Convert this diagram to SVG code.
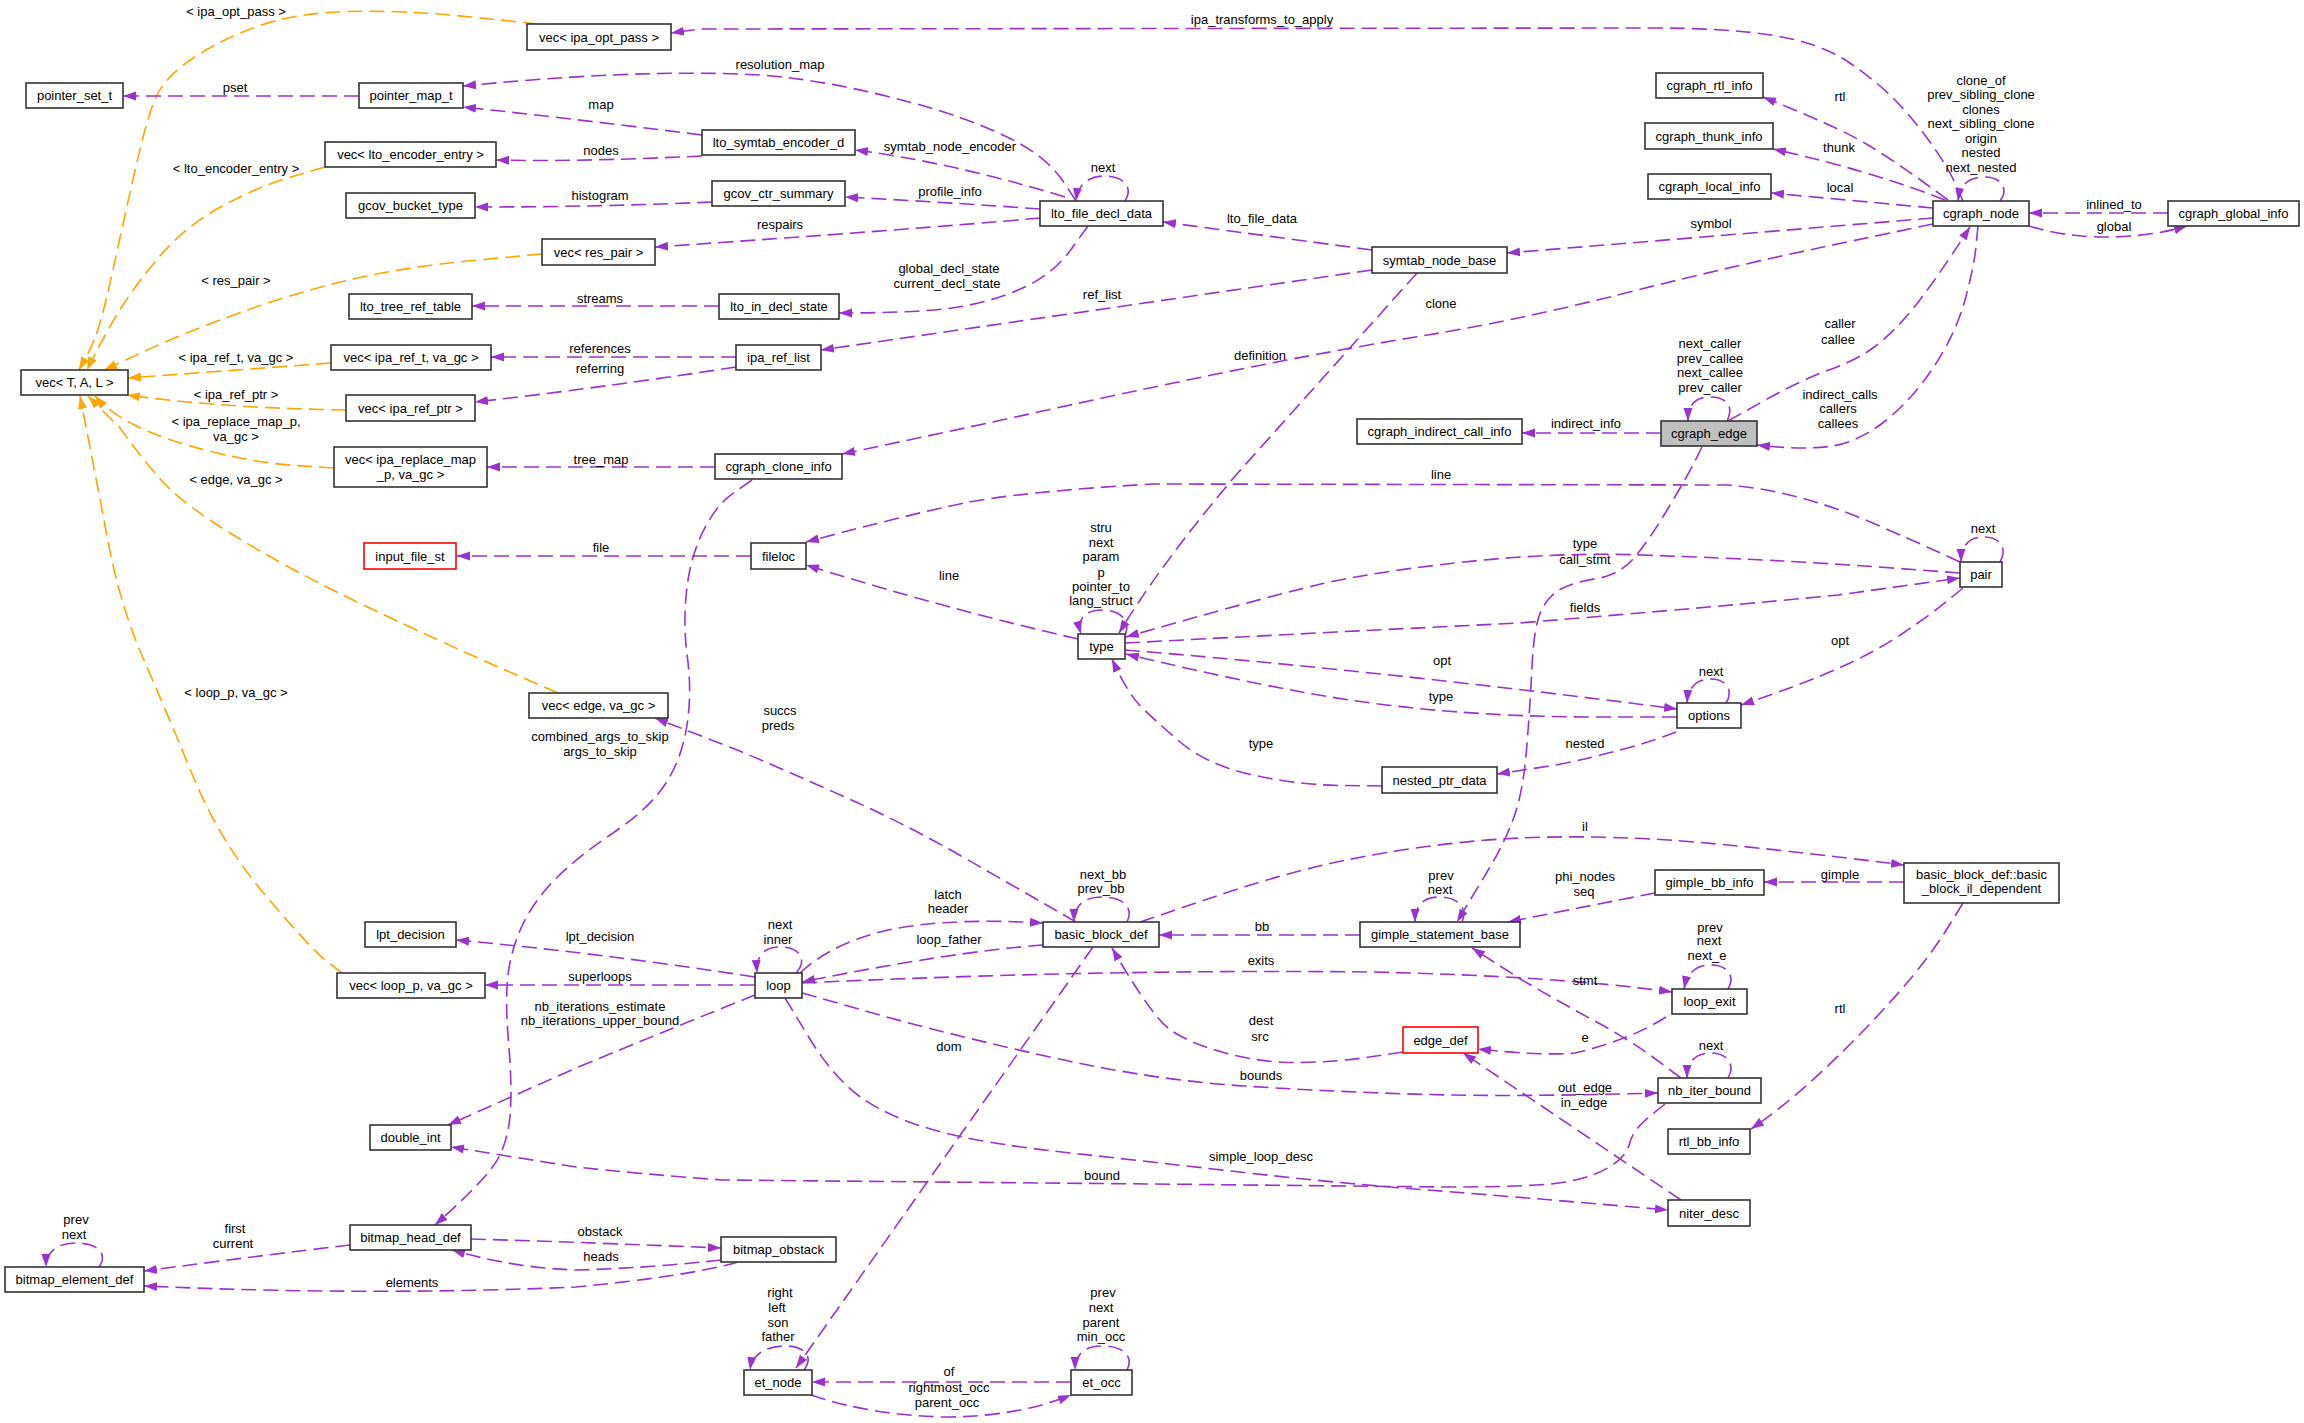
<svg xmlns="http://www.w3.org/2000/svg" width="2304" height="1423" viewBox="0 0 2304 1423">
<style>
.n rect{fill:#fff;stroke:#333;stroke-width:1.6}
.n.red rect{stroke:#ff0000}
.n.root rect{fill:#bfbfbf}
text{font-family:"Liberation Sans",Arial,sans-serif;font-size:13px;fill:#000;text-anchor:middle}
.e path{fill:none;stroke:#9a32cd;stroke-width:1.6;stroke-dasharray:15,7;marker-end:url(#ap)}
.e path.o{stroke:#ffa500;marker-end:url(#ao)}
</style>
<defs>
<marker id="ap" markerWidth="14" markerHeight="10" refX="13" refY="5" orient="auto" markerUnits="userSpaceOnUse"><path d="M0,0.5 L13,5 L0,9.5 z" fill="#9a32cd"/></marker>
<marker id="ao" markerWidth="14" markerHeight="10" refX="13" refY="5" orient="auto" markerUnits="userSpaceOnUse"><path d="M0,0.5 L13,5 L0,9.5 z" fill="#ffa500"/></marker>
</defs>
<rect width="2304" height="1423" fill="#fff"/>
<g id="connectors" class="e">
<path class="o" d="M538,24 L471,17 Q404,10 349,11.5 Q294,13 257,26.5 Q220,40 192.5,58.5 Q165,77 156,97 Q147,117 134,175 Q121,233 110,283 Q99,333 89,351.5 L79,370"/>
<path class="o" d="M325,167 L291,177 Q257,187 220.5,207 Q184,227 156.5,260 Q129,293 112,323 Q95,353 87,370"/>
<path class="o" d="M542,254 L473,260.5 Q404,267 349,280 Q294,293 239,313 Q184,333 144,351.5 L104,370"/>
<path class="o" d="M331,363 L128,378"/>
<path class="o" d="M346,410 Q220,408 127,395"/>
<path class="o" d="M334,468 L295.5,465.5 Q257,463 211,451.5 Q165,440 137.5,426.5 Q110,413 95,396"/>
<path class="o" d="M558,693 L499.5,667.5 Q441,642 367.5,607 Q294,572 239,538.5 Q184,505 163,482 Q142,459 120,428 L88,396"/>
<path class="o" d="M342,973 L327,961.5 Q312,950 266,896 Q220,842 192.5,775 Q165,708 143,658 Q121,608 108,541.5 Q95.5,475 80,396"/>
<path d="M359,96 L123,96"/>
<path d="M1076,201 L1065,184 Q1054,167 1035.5,153.5 Q1017,140 980,125 Q943,110 888,96.5 Q833,83 787,77.5 Q741,72 658.5,73.5 Q576,75 463,86"/>
<path d="M702,135 Q576,119 463,107"/>
<path d="M702,156 Q576,162 496,160"/>
<path d="M712,202 Q600,207 475,207"/>
<path d="M1065,197 Q950,162 855,150"/>
<path d="M1040,209 Q943,202 845,197"/>
<path d="M1040,218 Q906,230 655,247"/>
<path d="M1088,226 L1071,249.5 Q1054,273 1026,286.5 Q998,300 961.5,306.5 Q925,313 839,313"/>
<path d="M1125,201 C1135,185 1120,176 1105,176 C1090,176 1078,183 1076,201"/>
<path d="M719,306 L472,306"/>
<path d="M736,357 L491,357"/>
<path d="M736,367 Q600,388 475,402"/>
<path d="M1372,270 Q1096,310 821,350"/>
<path d="M715,467 L487,467"/>
<path d="M1933,224 L1830.5,245.5 Q1728,267 1623.5,293.5 Q1519,320 1427.5,335 Q1336,350 1244,368.5 Q1152,387 1047.5,410 Q943,433 842,454"/>
<path d="M1372,250 L1163,222"/>
<path d="M1933,218 Q1728,235 1507,253"/>
<path d="M1948,200 L1920.5,180 Q1893,160 1865.5,143.5 Q1838,127 1763,97"/>
<path d="M1945,200 Q1868,170 1773,149"/>
<path d="M1933,208 L1771,193"/>
<path d="M1963,201 L1955.5,184 Q1948,167 1930,142 Q1912,117 1893.5,98.5 Q1875,80 1847.5,61.5 Q1820,43 1774,35.5 Q1728,28 1650,28 L700,29 L671,33"/>
<path d="M2000,201 C2010,188 2000,177 1985,177 C1968,177 1960,185 1958,201"/>
<path d="M2168,213 L2029,213"/>
<path d="M2029,226 Q2065,237 2105,237 Q2150,237 2187,226"/>
<path d="M1728,421 L1764.5,400.5 Q1801,380 1829,370 Q1857,360 1875,346.5 Q1893,333 1913.5,308 Q1934,283 1970,227"/>
<path d="M1978,226 L1976,246.5 Q1974,267 1965,300 Q1956,333 1934,366.5 Q1912,400 1884.5,421.5 Q1857,443 1829,446.5 Q1801,450 1757,445"/>
<path d="M1727,421 C1735,405 1725,397 1710,397 C1695,397 1688,405 1688,421"/>
<path d="M1661,433 L1522,433"/>
<path d="M1702,447 L1695,461 Q1688,475 1668,508.5 Q1648,542 1633.5,558.5 Q1619,575 1597,578.5 Q1575,582 1562,588.5 Q1549,595 1541.5,610 Q1534,625 1532,666.5 Q1530,708 1526.5,750 Q1523,792 1514,817 Q1505,842 1490,867 Q1475,892 1457,922"/>
<path d="M1960,562 L1936,551 Q1912,540 1875,524 Q1838,508 1801.5,498 Q1765,488 1728,485 L1152,484 Q1017,492 962,503.5 Q907,515 806,542"/>
<path d="M1078,639 Q943,608 806,565"/>
<path d="M751,556 L457,556"/>
<path d="M752,480 L734,492.5 Q716,505 703,531.5 Q690,558 686.5,591.5 Q683,625 687.5,658.5 Q692,692 687,725 Q682,758 666,783 Q650,808 613,833 Q576,858 554.5,880 Q533,902 522,926 Q511,950 508,975 Q505,1000 508.5,1041.5 Q512,1083 510.5,1110 Q509,1137 499,1157 Q489,1177 435,1225"/>
<path d="M1076,922 L1046.5,905 Q1017,888 962,856.5 Q907,825 851.5,800 Q796,775 741,751.5 L655,718"/>
<path d="M1124,638 C1132,622 1122,610 1102,610 C1084,610 1077,620 1081,634"/>
<path d="M1417,273 L1236,475 Q1160,565 1119,633"/>
<path d="M1960,573 L1899,568.5 Q1838,564 1783,561 Q1728,558 1642,555 Q1556,552 1464,562 Q1372,572 1317,585 Q1262,598 1126,637"/>
<path d="M1125,643 L1336,632 L1519,623 Q1728,606 1838,595 L1960,578"/>
<path d="M1125,650 C1300,664 1500,686 1677,709"/>
<path d="M1677,717 L1598,717 Q1519,717 1445.5,711 Q1372,705 1299,691.5 Q1226,678 1126,654"/>
<path d="M1726,703 C1734,690 1726,679 1711,679 C1696,679 1688,688 1687,703"/>
<path d="M1963,588 L1946.5,601.5 Q1930,615 1902.5,633.5 Q1875,652 1838,668.5 Q1801,685 1741,705"/>
<path d="M2000,562 C2008,548 2000,537 1984,537 C1968,537 1961,547 1961,562"/>
<path d="M1382,786 L1340.5,785.5 Q1299,785 1253,775 Q1207,765 1179.5,741.5 Q1152,718 1139.5,705 Q1127,692 1112,659"/>
<path d="M1676,732 Q1630,750 1556,765 L1497,774"/>
<path d="M1140,922 L1219.5,895 Q1299,868 1372.5,855 Q1446,842 1510.5,838.5 Q1575,835 1651.5,839 Q1728,843 1904,865"/>
<path d="M1904,882 L1764,882"/>
<path d="M1655,893 Q1593,905 1508,922"/>
<path d="M1462,922 C1468,908 1458,897 1440,897 C1422,897 1415,906 1415,922"/>
<path d="M1360,935 L1159,935"/>
<path d="M1963,903 L1948.5,926.5 Q1934,950 1913.5,975 Q1893,1000 1865.5,1028.5 Q1838,1057 1810.5,1082 Q1783,1107 1751,1129"/>
<path d="M1127,922 C1134,908 1124,897 1102,897 C1082,897 1074,907 1074,922"/>
<path d="M800,973 Q830,945 880,932 Q940,917 1043,923"/>
<path d="M1043,945 Q950,952 802,982"/>
<path d="M796,973 C808,960 800,947 780,947 C762,947 756,958 757,973"/>
<path d="M802,983 Q1100,969 1372,972 Q1556,976 1672,992"/>
<path d="M755,977 Q600,953 456,940"/>
<path d="M755,985 L485,985"/>
<path d="M755,995 Q680,1025 576,1068 L448,1125"/>
<path d="M802,993 L872.5,1013 Q943,1033 1047.5,1056.5 Q1152,1080 1244,1086 Q1336,1092 1427.5,1094.5 Q1519,1097 1658,1093"/>
<path d="M785,998 L809,1037.5 Q833,1077 860.5,1097 Q888,1117 934,1130 Q980,1143 1066,1152.5 Q1152,1162 1244,1172.5 Q1336,1183 1427.5,1190 Q1519,1197 1668,1210"/>
<path d="M1665,1104 L1649,1117 Q1633,1130 1629.5,1143.5 Q1626,1157 1609.5,1167 Q1593,1177 1565.5,1182 Q1538,1187 1446,1187 L1152,1184 L723,1180 Q640,1174 576,1167 L451,1147"/>
<path d="M1728,1078 C1736,1065 1727,1053 1711,1053 C1695,1053 1687,1062 1687,1078"/>
<path d="M1681,1078 L1655.5,1059 Q1630,1040 1593,1020 Q1556,1000 1519.5,978.5 L1472,948"/>
<path d="M1666,1017 Q1630,1040 1575,1053 Q1540,1056 1478,1049"/>
<path d="M1728,989 C1736,976 1727,965 1711,965 C1695,965 1687,974 1684,989"/>
<path d="M1403,1052 L1369.5,1057 Q1336,1062 1299,1062.5 Q1262,1063 1225.5,1053 Q1189,1043 1170.5,1030 Q1152,1017 1112,948"/>
<path d="M1681,1200 L1463,1053"/>
<path d="M1093,947 L796,1368"/>
<path d="M804,1370 C814,1357 805,1346 785,1346 C765,1346 752,1355 750,1370"/>
<path d="M1071,1382 L812,1382"/>
<path d="M811,1395 Q870,1415 943,1417 Q1017,1417 1071,1395"/>
<path d="M1127,1370 C1134,1357 1124,1346 1102,1346 C1083,1346 1075,1356 1075,1370"/>
<path d="M350,1245 Q257,1256 144,1271"/>
<path d="M99,1267 C108,1255 99,1243 76,1243 C56,1243 46,1253 46,1267"/>
<path d="M471,1239 Q576,1242 721,1248"/>
<path d="M721,1260 Q650,1268 576,1270 Q514,1268 452,1250"/>
<path d="M738,1262 Q690,1276 576,1287 Q370,1296 144,1286"/>
</g>
<g id="labels">
<text x="236" y="16">&lt; ipa_opt_pass &gt;</text>
<text x="235" y="92">pset</text>
<text x="236" y="173">&lt; lto_encoder_entry &gt;</text>
<text x="236" y="285">&lt; res_pair &gt;</text>
<text x="236" y="362">&lt; ipa_ref_t, va_gc &gt;</text>
<text x="236" y="399">&lt; ipa_ref_ptr &gt;</text>
<text x="236" y="426">&lt; ipa_replace_map_p,</text>
<text x="236" y="441">va_gc &gt;</text>
<text x="236" y="484">&lt; edge, va_gc &gt;</text>
<text x="236" y="697">&lt; loop_p, va_gc &gt;</text>
<text x="780" y="69">resolution_map</text>
<text x="601" y="109">map</text>
<text x="601" y="155">nodes</text>
<text x="600" y="200">histogram</text>
<text x="950" y="151">symtab_node_encoder</text>
<text x="950" y="196">profile_info</text>
<text x="780" y="229">respairs</text>
<text x="949" y="273">global_decl_state</text>
<text x="947" y="288">current_decl_state</text>
<text x="1103" y="172">next</text>
<text x="600" y="303">streams</text>
<text x="600" y="353">references</text>
<text x="600" y="373">referring</text>
<text x="1102" y="299">ref_list</text>
<text x="601" y="464">tree_map</text>
<text x="1262" y="24">ipa_transforms_to_apply</text>
<text x="1262" y="223">lto_file_data</text>
<text x="1711" y="228">symbol</text>
<text x="1441" y="308">clone</text>
<text x="1260" y="360">definition</text>
<text x="1840" y="101">rtl</text>
<text x="1839" y="152">thunk</text>
<text x="1840" y="192">local</text>
<text x="1981" y="85">clone_of</text>
<text x="1981" y="99">prev_sibling_clone</text>
<text x="1981" y="114">clones</text>
<text x="1981" y="128">next_sibling_clone</text>
<text x="1981" y="143">origin</text>
<text x="1981" y="157">nested</text>
<text x="1981" y="172">next_nested</text>
<text x="2114" y="209">inlined_to</text>
<text x="2114" y="231">global</text>
<text x="1840" y="328">caller</text>
<text x="1838" y="344">callee</text>
<text x="1840" y="399">indirect_calls</text>
<text x="1838" y="413">callers</text>
<text x="1838" y="428">callees</text>
<text x="1710" y="348">next_caller</text>
<text x="1710" y="363">prev_callee</text>
<text x="1710" y="377">next_callee</text>
<text x="1710" y="392">prev_caller</text>
<text x="1586" y="428">indirect_info</text>
<text x="1585" y="548">type</text>
<text x="1585" y="564">call_stmt</text>
<text x="1441" y="479">line</text>
<text x="1101" y="532">stru</text>
<text x="1101" y="547">next</text>
<text x="1101" y="561">param</text>
<text x="1101" y="577">p</text>
<text x="1101" y="591">pointer_to</text>
<text x="1101" y="605">lang_struct</text>
<text x="949" y="580">line</text>
<text x="601" y="552">file</text>
<text x="1585" y="612">fields</text>
<text x="1442" y="665">opt</text>
<text x="1441" y="701">type</text>
<text x="1711" y="676">next</text>
<text x="1840" y="645">opt</text>
<text x="1983" y="533">next</text>
<text x="1585" y="748">nested</text>
<text x="1261" y="748">type</text>
<text x="600" y="741">combined_args_to_skip</text>
<text x="600" y="756">args_to_skip</text>
<text x="780" y="715">succs</text>
<text x="778" y="730">preds</text>
<text x="1585" y="831">il</text>
<text x="1840" y="879">gimple</text>
<text x="1585" y="881">phi_nodes</text>
<text x="1584" y="896">seq</text>
<text x="1441" y="880">prev</text>
<text x="1440" y="894">next</text>
<text x="1262" y="931">bb</text>
<text x="1840" y="1013">rtl</text>
<text x="1103" y="879">next_bb</text>
<text x="1101" y="893">prev_bb</text>
<text x="948" y="899">latch</text>
<text x="948" y="913">header</text>
<text x="949" y="944">loop_father</text>
<text x="780" y="929">next</text>
<text x="778" y="944">inner</text>
<text x="600" y="941">lpt_decision</text>
<text x="600" y="981">superloops</text>
<text x="600" y="1011">nb_iterations_estimate</text>
<text x="600" y="1025">nb_iterations_upper_bound</text>
<text x="1261" y="965">exits</text>
<text x="1585" y="985">stmt</text>
<text x="1710" y="932">prev</text>
<text x="1709" y="945">next</text>
<text x="1707" y="960">next_e</text>
<text x="1261" y="1025">dest</text>
<text x="1260" y="1041">src</text>
<text x="1585" y="1042">e</text>
<text x="949" y="1051">dom</text>
<text x="1711" y="1050">next</text>
<text x="1261" y="1080">bounds</text>
<text x="1585" y="1092">out_edge</text>
<text x="1584" y="1107">in_edge</text>
<text x="1261" y="1161">simple_loop_desc</text>
<text x="1102" y="1180">bound</text>
<text x="235" y="1233">first</text>
<text x="233" y="1248">current</text>
<text x="76" y="1224">prev</text>
<text x="74" y="1239">next</text>
<text x="600" y="1236">obstack</text>
<text x="601" y="1261">heads</text>
<text x="412" y="1287">elements</text>
<text x="780" y="1297">right</text>
<text x="777" y="1312">left</text>
<text x="778" y="1327">son</text>
<text x="778" y="1341">father</text>
<text x="1103" y="1297">prev</text>
<text x="1101" y="1312">next</text>
<text x="1101" y="1327">parent</text>
<text x="1101" y="1341">min_occ</text>
<text x="949" y="1376">of</text>
<text x="949" y="1392">rightmost_occ</text>
<text x="947" y="1407">parent_occ</text>
</g>
<g id="n_vec_ipa_opt_pass" class="n"><rect x="527" y="24" width="144" height="26"/><text x="599" y="41.5">vec&lt; ipa_opt_pass &gt;</text></g>
<g id="n_pointer_set_t" class="n"><rect x="26" y="83" width="97" height="25"/><text x="74.5" y="100">pointer_set_t</text></g>
<g id="n_pointer_map_t" class="n"><rect x="359" y="83" width="104" height="25"/><text x="411" y="100">pointer_map_t</text></g>
<g id="n_vec_lto_encoder_entry" class="n"><rect x="325" y="142" width="171" height="25"/><text x="410.5" y="159">vec&lt; lto_encoder_entry &gt;</text></g>
<g id="n_gcov_bucket_type" class="n"><rect x="346" y="193" width="129" height="25"/><text x="410.5" y="210">gcov_bucket_type</text></g>
<g id="n_vec_res_pair" class="n"><rect x="542" y="239" width="113" height="26"/><text x="598.5" y="256.5">vec&lt; res_pair &gt;</text></g>
<g id="n_lto_tree_ref_table" class="n"><rect x="349" y="294" width="123" height="25"/><text x="410.5" y="311">lto_tree_ref_table</text></g>
<g id="n_vec_ipa_ref_t" class="n"><rect x="331" y="345" width="160" height="25"/><text x="411" y="362">vec&lt; ipa_ref_t, va_gc &gt;</text></g>
<g id="n_vec_T_A_L" class="n"><rect x="21" y="370" width="107" height="25"/><text x="74.5" y="387">vec&lt; T, A, L &gt;</text></g>
<g id="n_vec_ipa_ref_ptr" class="n"><rect x="346" y="395" width="129" height="26"/><text x="410.5" y="412.5">vec&lt; ipa_ref_ptr &gt;</text></g>
<g id="n_vec_ipa_replace_map" class="n"><rect x="334" y="447" width="153" height="40"/><text x="410.5" y="464">vec&lt; ipa_replace_map</text><text x="410.5" y="479">_p, va_gc &gt;</text></g>
<g id="n_lto_symtab_encoder_d" class="n"><rect x="702" y="130" width="153" height="25"/><text x="778.5" y="147">lto_symtab_encoder_d</text></g>
<g id="n_gcov_ctr_summary" class="n"><rect x="712" y="181" width="133" height="25"/><text x="778.5" y="198">gcov_ctr_summary</text></g>
<g id="n_lto_file_decl_data" class="n"><rect x="1040" y="201" width="123" height="25"/><text x="1101.5" y="218">lto_file_decl_data</text></g>
<g id="n_lto_in_decl_state" class="n"><rect x="719" y="294" width="120" height="25"/><text x="779" y="311">lto_in_decl_state</text></g>
<g id="n_ipa_ref_list" class="n"><rect x="736" y="345" width="85" height="25"/><text x="778.5" y="362">ipa_ref_list</text></g>
<g id="n_cgraph_clone_info" class="n"><rect x="715" y="454" width="127" height="25"/><text x="778.5" y="471">cgraph_clone_info</text></g>
<g id="n_cgraph_rtl_info" class="n"><rect x="1656" y="73" width="107" height="25"/><text x="1709.5" y="90">cgraph_rtl_info</text></g>
<g id="n_cgraph_thunk_info" class="n"><rect x="1645" y="123" width="128" height="26"/><text x="1709" y="140.5">cgraph_thunk_info</text></g>
<g id="n_cgraph_local_info" class="n"><rect x="1648" y="174" width="123" height="25"/><text x="1709.5" y="191">cgraph_local_info</text></g>
<g id="n_symtab_node_base" class="n"><rect x="1372" y="247" width="135" height="26"/><text x="1439.5" y="264.5">symtab_node_base</text></g>
<g id="n_cgraph_indirect_call_info" class="n"><rect x="1357" y="419" width="165" height="25"/><text x="1439.5" y="436">cgraph_indirect_call_info</text></g>
<g id="n_cgraph_edge" class="n root"><rect x="1661" y="421" width="96" height="25"/><text x="1709" y="438">cgraph_edge</text></g>
<g id="n_cgraph_node" class="n"><rect x="1933" y="201" width="96" height="25"/><text x="1981" y="218">cgraph_node</text></g>
<g id="n_cgraph_global_info" class="n"><rect x="2168" y="201" width="131" height="25"/><text x="2233.5" y="218">cgraph_global_info</text></g>
<g id="n_input_file_st" class="n red"><rect x="364" y="543" width="92" height="26"/><text x="410" y="560.5">input_file_st</text></g>
<g id="n_vec_edge_va_gc" class="n"><rect x="529" y="693" width="139" height="25"/><text x="598.5" y="710">vec&lt; edge, va_gc &gt;</text></g>
<g id="n_lpt_decision" class="n"><rect x="365" y="922" width="91" height="25"/><text x="410.5" y="939">lpt_decision</text></g>
<g id="n_fileloc" class="n"><rect x="751" y="543" width="55" height="26"/><text x="778.5" y="560.5">fileloc</text></g>
<g id="n_type" class="n"><rect x="1078" y="634" width="47" height="25"/><text x="1101.5" y="651">type</text></g>
<g id="n_basic_block_def" class="n"><rect x="1043" y="922" width="116" height="25"/><text x="1101" y="939">basic_block_def</text></g>
<g id="n_options" class="n"><rect x="1677" y="703" width="64" height="25"/><text x="1709" y="720">options</text></g>
<g id="n_nested_ptr_data" class="n"><rect x="1382" y="767" width="115" height="26"/><text x="1439.5" y="784.5">nested_ptr_data</text></g>
<g id="n_gimple_statement_base" class="n"><rect x="1360" y="922" width="160" height="25"/><text x="1440" y="939">gimple_statement_base</text></g>
<g id="n_gimple_bb_info" class="n"><rect x="1655" y="870" width="109" height="25"/><text x="1709.5" y="887">gimple_bb_info</text></g>
<g id="n_pair" class="n"><rect x="1960" y="562" width="42" height="25"/><text x="1981" y="579">pair</text></g>
<g id="n_bb_il_dependent" class="n"><rect x="1904" y="863" width="155" height="40"/><text x="1981.5" y="879">basic_block_def::basic</text><text x="1981.5" y="893">_block_il_dependent</text></g>
<g id="n_vec_loop_p" class="n"><rect x="337" y="973" width="148" height="25"/><text x="411" y="990">vec&lt; loop_p, va_gc &gt;</text></g>
<g id="n_double_int" class="n"><rect x="370" y="1125" width="81" height="25"/><text x="410.5" y="1142">double_int</text></g>
<g id="n_bitmap_head_def" class="n"><rect x="350" y="1225" width="121" height="25"/><text x="410.5" y="1242">bitmap_head_def</text></g>
<g id="n_bitmap_element_def" class="n"><rect x="5" y="1267" width="139" height="25"/><text x="74.5" y="1284">bitmap_element_def</text></g>
<g id="n_loop" class="n"><rect x="755" y="973" width="47" height="25"/><text x="778.5" y="990">loop</text></g>
<g id="n_bitmap_obstack" class="n"><rect x="721" y="1237" width="115" height="25"/><text x="778.5" y="1254">bitmap_obstack</text></g>
<g id="n_et_node" class="n"><rect x="744" y="1370" width="68" height="25"/><text x="778" y="1387">et_node</text></g>
<g id="n_et_occ" class="n"><rect x="1071" y="1370" width="61" height="25"/><text x="1101.5" y="1387">et_occ</text></g>
<g id="n_loop_exit" class="n"><rect x="1672" y="989" width="75" height="25"/><text x="1709.5" y="1006">loop_exit</text></g>
<g id="n_edge_def" class="n red"><rect x="1403" y="1027" width="75" height="26"/><text x="1440.5" y="1044.5">edge_def</text></g>
<g id="n_nb_iter_bound" class="n"><rect x="1658" y="1078" width="103" height="25"/><text x="1709.5" y="1095">nb_iter_bound</text></g>
<g id="n_rtl_bb_info" class="n"><rect x="1668" y="1129" width="82" height="25"/><text x="1709" y="1146">rtl_bb_info</text></g>
<g id="n_niter_desc" class="n"><rect x="1668" y="1200" width="82" height="26"/><text x="1709" y="1217.5">niter_desc</text></g>
</svg>
